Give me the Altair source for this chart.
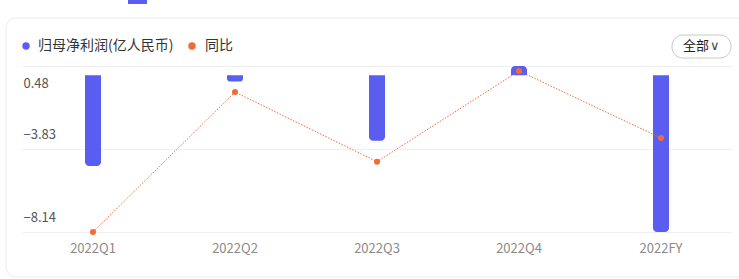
import altair as alt
import pandas as pd

# Reporting periods, net profit attributable to parent (100M CNY) and YoY change (%)
periods = ["2022Q1", "2022Q2", "2022Q3", "2022Q4", "2022FY"]
profit = [-4.71, -0.33, -3.40, 0.48, -8.14]
yoy = [-250.0, -13.9, -131.4, 21.6, -91.5]
profit_ticks = [0.48, -3.83, -8.14]

BLUE = "#5a5ef0"
ORANGE = "#f26a35"
FONT = "Noto Sans CJK SC"

df = pd.DataFrame({"period": periods, "profit": profit, "yoy": yoy})
one = alt.Data(values=[{}])

x_enc = alt.X(
    "period:N",
    sort=periods,
    scale=alt.Scale(paddingInner=0, paddingOuter=0),
    axis=alt.Axis(
        title=None, labelAngle=0, domain=False, ticks=False,
        labelPadding=10, labelColor="#8a8a8a", labelFontSize=13, labelFont=FONT,
    ),
)

y_profit = alt.Y(
    "profit:Q",
    scale=alt.Scale(domain=[-8.14, 0.48], nice=False, zero=False),
    axis=alt.Axis(
        title=None, values=profit_ticks, domain=False, ticks=False,
        labelAlign="left", labelPadding=-1, labelBaseline="middle",
        labelOffset={"condition": {"test": "datum.value > 0", "value": 17}, "value": -15},
        labelColor="#555555", labelFontSize=13, labelFont=FONT,
        labelExpr="format(datum.value, '.2f')",
        grid=True, gridColor="#f0f0f0", gridWidth=1,
    ),
)

# Card frame (outline only) and the tab indicator above it
card = alt.Chart(one).mark_rect(
    fill="transparent", stroke="#ececec", strokeWidth=1, cornerRadius=10
).encode(x=alt.value(-16), x2=alt.value(740), y=alt.value(-48), y2=alt.value(211))

tab = alt.Chart(one).mark_rect(fill=BLUE).encode(
    x=alt.value(106), x2=alt.value(125), y=alt.value(-70), y2=alt.value(-62)
)

base = alt.Chart(df).encode(x=x_enc)

bars_neg = base.transform_filter("datum.profit < 0").mark_bar(
    size=16, color=BLUE, cornerRadiusBottomLeft=4, cornerRadiusBottomRight=4
).encode(y=y_profit, y2=alt.datum(0))

bars_pos = base.transform_filter("datum.profit >= 0").mark_bar(
    size=16, color=BLUE, cornerRadiusTopLeft=4, cornerRadiusTopRight=4
).encode(y=y_profit, y2=alt.datum(0))

bars = alt.layer(bars_neg, bars_pos)

y_yoy = alt.Y("yoy:Q", scale=alt.Scale(domain=[-250, 30], nice=False, zero=False), axis=None)

line = base.mark_line(color=ORANGE, strokeWidth=1, strokeDash=[1.5, 1.5]).encode(y=y_yoy)
dots = base.mark_circle(color=ORANGE, size=36, opacity=1).encode(y=y_yoy)
yoy_layer = alt.layer(line, dots)

# Legend entries
leg_dot1 = alt.Chart(one).mark_circle(color=BLUE, size=55, opacity=1).encode(
    x=alt.value(4), y=alt.value(-20)
)
leg_txt1 = alt.Chart(one).mark_text(
    align="left", baseline="middle", font=FONT, fontSize=14, color="#333333"
).encode(x=alt.value(16), y=alt.value(-20), text=alt.value("归母净利润(亿人民币)"))
leg_dot2 = alt.Chart(one).mark_circle(color=ORANGE, size=55, opacity=1).encode(
    x=alt.value(170), y=alt.value(-20)
)
leg_txt2 = alt.Chart(one).mark_text(
    align="left", baseline="middle", font=FONT, fontSize=14, color="#333333"
).encode(x=alt.value(183), y=alt.value(-20), text=alt.value("同比"))

# "All" selector pill in the top-right corner
pill = alt.Chart(one).mark_rect(
    fill="white", stroke="#c8c8c8", strokeWidth=1, cornerRadius=11
).encode(x=alt.value(650), x2=alt.value(709), y=alt.value(-31), y2=alt.value(-8))
pill_txt = alt.Chart(one).mark_text(
    align="left", baseline="middle", font=FONT, fontSize=13, color="#222222"
).encode(x=alt.value(661), y=alt.value(-20), text=alt.value("全部"))
pill_arrow = alt.Chart(one).mark_text(
    align="left", baseline="middle", font="DejaVu Sans", fontSize=13, color="#444444"
).encode(x=alt.value(688), y=alt.value(-20), text=alt.value("∨"))

decor = alt.layer(card, tab, leg_dot1, leg_txt1, leg_dot2, leg_txt2, pill, pill_txt, pill_arrow)

chart = alt.layer(decor, bars, yoy_layer).resolve_scale(y="independent").properties(
    width=710,
    height=166,
    autosize=alt.AutoSizeParams(type="none"),
    padding={"left": 22, "top": 66, "right": 7, "bottom": 47},
    background="white",
).configure_view(stroke=None)

chart.save("out.html", embed_options={"renderer": "svg", "actions": False})
